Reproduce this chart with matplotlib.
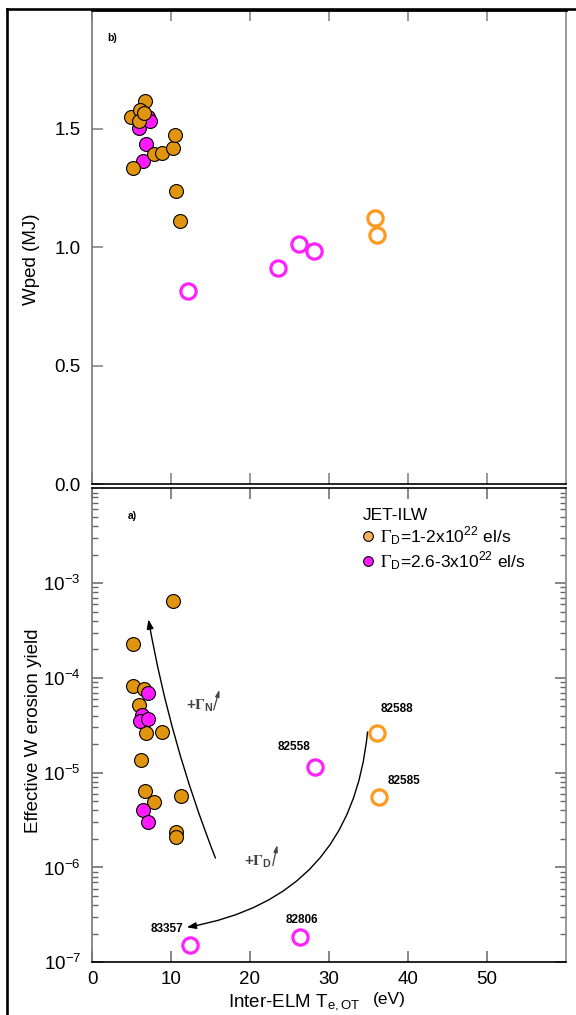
import numpy as np
import matplotlib
matplotlib.use("Agg")
import matplotlib.pyplot as plt
from matplotlib.lines import Line2D
from matplotlib.ticker import LogLocator, NullFormatter

plt.rcParams['font.family'] = ['Liberation Sans', 'DejaVu Sans']
plt.rcParams['mathtext.fontset'] = 'stix'
plt.rcParams['axes.unicode_minus'] = False

# ---- panel b) pedestal energy vs inter-ELM Te
wped_lo_te = [5.2, 6.7, 5.0, 6.1, 5.9, 6.6, 7.8, 8.9, 10.2, 10.5, 10.6, 11.2]
wped_lo = [1.334, 1.616, 1.549, 1.577, 1.532, 1.566, 1.392, 1.395, 1.42, 1.472, 1.238, 1.11]
wped_hi_te = [6.0, 7.1, 6.9, 6.4, 7.3]
wped_hi = [1.503, 1.549, 1.434, 1.363, 1.53]
wped_open_hi_te = [12.2, 23.6, 26.2, 28.1]
wped_open_hi = [0.813, 0.912, 1.013, 0.985]
wped_open_lo_te = [35.9, 36.1]
wped_open_lo = [1.123, 1.052]

# ---- panel a) effective W erosion yield vs inter-ELM Te
ero_lo_te = [10.2, 5.15, 5.15, 6.6, 6.0, 6.8, 8.9, 6.2, 6.7, 7.85, 11.3, 10.6, 10.7]
ero_lo = [6.4e-4, 2.3e-4, 8.3e-5, 7.6e-5, 5.2e-5, 2.6e-5, 2.7e-5, 1.36e-5,
          6.4e-6, 4.9e-6, 5.7e-6, 2.35e-6, 2.09e-6]
ero_hi_te = [7.1, 6.3, 6.1, 7.05, 6.5, 7.05]
ero_hi = [6.9e-5, 4.1e-5, 3.5e-5, 3.7e-5, 4.0e-6, 3.04e-6]
ero_open_lo_te = [36.1, 36.3]
ero_open_lo = [2.6e-5, 5.5e-6]
ero_open_hi_te = [28.2, 12.4, 26.3]
ero_open_hi = [1.15e-5, 1.54e-7, 1.85e-7]

pulses = ['82588', '82558', '82585', '82806', '83357']
pulse_te = [38.6, 25.6, 39.5, 26.6, 9.5]
pulse_y = [4.74e-5, 1.85e-5, 8.1e-6, 2.8e-7, 2.25e-7]

x_ticks = [0, 10, 20, 30, 40, 50]
wped_ticks = [0.0, 0.5, 1.0, 1.5]
ero_ticks = [1e-7, 1e-6, 1e-5, 1e-4, 1e-3]

c_lo = '#e0940f'
c_hi = '#ff1aff'
c_open_lo = '#ff9a1f'
c_open_hi = '#ff22ff'

W, H = 576, 1015
fig = plt.figure(figsize=(W / 100, H / 100), dpi=100)

L, R = 92 / W, 565.7 / W
ax_b = fig.add_axes([L, 1 - 484.3 / H, R - L, (484.3 - 10) / H])
ax_a = fig.add_axes([L, 1 - 962.3 / H, R - L, (962.3 - 488.3) / H])

filled = dict(marker='o', ls='none', ms=10, mec='black', mew=0.8)
hollow = dict(marker='o', ls='none', ms=11, mfc='none', mew=2.3)

# panel b
ax_b.plot(wped_hi_te, wped_hi, mfc=c_hi, zorder=3, **filled)
ax_b.plot(wped_lo_te, wped_lo, mfc=c_lo, zorder=4, **filled)
ax_b.plot(wped_open_hi_te, wped_open_hi, mec=c_open_hi, **hollow)
ax_b.plot(wped_open_lo_te, wped_open_lo, mec=c_open_lo, **hollow)
ax_b.set_xlim(0, 60)
ax_b.set_ylim(0, 2.0)
ax_b.set_xticks(x_ticks)
ax_b.set_xticklabels([])
ax_b.set_yticks(wped_ticks)
ax_b.set_yticklabels(['%.1f' % v for v in wped_ticks])
ax_b.tick_params(axis='x', direction='in', top=True, bottom=True, length=8,
                 width=1.2, color='#888888')
ax_b.tick_params(axis='y', direction='in', left=True, right=False, length=8,
                 width=1.2, color='#888888', labelsize=13.5, pad=8)
ax_b.text(0.033, 0.935, 'b)', transform=ax_b.transAxes, fontsize=7.5,
          fontweight='bold')

# panel a
ax_a.plot(ero_lo_te, ero_lo, mfc=c_lo, zorder=3, **filled)
ax_a.plot(ero_hi_te, ero_hi, mfc=c_hi, zorder=4, **filled)
ax_a.plot(ero_open_lo_te, ero_open_lo, mec=c_open_lo, **hollow)
ax_a.plot(ero_open_hi_te, ero_open_hi, mec=c_open_hi, **hollow)
ax_a.set_yscale('log')
ax_a.set_xlim(0, 60)
ax_a.set_ylim(1e-7, 1e-2)
ax_a.set_xticks(x_ticks)
ax_a.set_yticks(ero_ticks)
ax_a.yaxis.set_minor_locator(LogLocator(base=10, subs=np.arange(2, 10)))
ax_a.yaxis.set_minor_formatter(NullFormatter())
ax_a.tick_params(axis='both', which='major', direction='in', top=True,
                 right=True, length=8, width=1.1, color='#666666',
                 labelsize=13.5)
ax_a.tick_params(axis='x', pad=6)
ax_a.tick_params(axis='y', pad=8)
ax_a.tick_params(axis='y', which='minor', direction='in', left=True,
                 right=True, length=4.5, width=1.0, color='#666666')
ax_a.text(0.076, 0.935, 'a)', transform=ax_a.transAxes, fontsize=7.5,
          fontweight='bold')

for lbl, xv, yv in zip(pulses, pulse_te, pulse_y):
    ax_a.text(xv, yv, lbl, fontsize=8.5, fontweight='bold', ha='center',
              va='center')

# trend arrows
ax_a.annotate('', xy=(7.15, 4.14e-4), xytext=(15.63, 1.26e-6),
              arrowprops=dict(arrowstyle='-|>,head_length=0.55,head_width=0.2',
                              connectionstyle='arc3,rad=-0.05', lw=1.0,
                              color='black', shrinkA=0, shrinkB=0))
ax_a.annotate('', xy=(12.0, 2.34e-7), xytext=(34.9, 2.69e-5),
              arrowprops=dict(arrowstyle='-|>,head_length=0.55,head_width=0.2',
                              connectionstyle='arc3,rad=-0.38', lw=1.0,
                              color='black', shrinkA=0, shrinkB=0))
ax_a.text(11.9, 5.0e-5, r'+$\mathbf{\Gamma}_{\mathdefault{N}}$', fontsize=11,
          fontweight='bold', color='#444444', va='center')
ax_a.annotate('', xy=(16.14, 7.5e-5), xytext=(15.41, 4.6e-5),
              arrowprops=dict(arrowstyle='-|>,head_length=0.4,head_width=0.12',
                              lw=0.9, color='#444444', shrinkA=0, shrinkB=0))
ax_a.text(19.3, 1.15e-6, r'+$\mathbf{\Gamma}_{\mathdefault{D}}$', fontsize=11,
          fontweight='bold', color='#444444', va='center')
ax_a.annotate('', xy=(23.47, 1.73e-6), xytext=(22.9, 1.05e-6),
              arrowprops=dict(arrowstyle='-|>,head_length=0.4,head_width=0.12',
                              lw=0.9, color='#444444', shrinkA=0, shrinkB=0))

# legend
handles = [Line2D([], [], marker='o', ls='none', ms=7, mfc='#f3b060',
                  mec='black', mew=0.8),
           Line2D([], [], marker='o', ls='none', ms=7, mfc=c_hi,
                  mec='black', mew=0.8)]
labels = [r'$\Gamma_{\mathdefault{D}}$=1-2x10$^{\mathdefault{22}}$ el/s',
          r'$\Gamma_{\mathdefault{D}}$=2.6-3x10$^{\mathdefault{22}}$ el/s']
leg = ax_a.legend(handles, labels, title='JET-ILW', loc='upper left',
                  bbox_to_anchor=(0.545, 0.985), frameon=False, fontsize=12.5,
                  title_fontsize=12.5, handlelength=0.6, handletextpad=0.4,
                  labelspacing=0.15, borderpad=0.2, alignment='left')

# spines
for ax in (ax_b, ax_a):
    ax.spines['top'].set_color('black')
    ax.spines['bottom'].set_color('black')
    ax.spines['left'].set_color('#777777')
    ax.spines['right'].set_color('#888888')
    for s in ax.spines.values():
        s.set_linewidth(1.2)
ax_b.spines['top'].set_linewidth(2.0)

# axis titles
fig.text(31.7 / W, 1 - 259 / H, 'Wped (MJ)', rotation=90, ha='center',
         va='center', fontsize=13.5)
fig.text(34 / W, 1 - 730.5 / H, 'Effective W erosion yield', rotation=90,
         ha='center', va='center', fontsize=13.5)
fig.text(228 / W, 1 - 1007 / H, r'Inter-ELM T$_{\mathdefault{e,OT}}$', ha='left',
         va='baseline', fontsize=13.5)
fig.text(373 / W, 1 - 1004 / H, '(eV)', ha='left', va='baseline',
         fontsize=12.5)

# outer frame
fig.add_artist(Line2D([7.2 / W, 7.2 / W], [0, 1 - 9.3 / H], color='black',
                      lw=1.9, transform=fig.transFigure))
fig.add_artist(Line2D([7.2 / W, 1], [1 - 9.3 / H, 1 - 9.3 / H], color='black',
                      lw=1.9, transform=fig.transFigure))

fig.savefig('out.png', dpi=100)
